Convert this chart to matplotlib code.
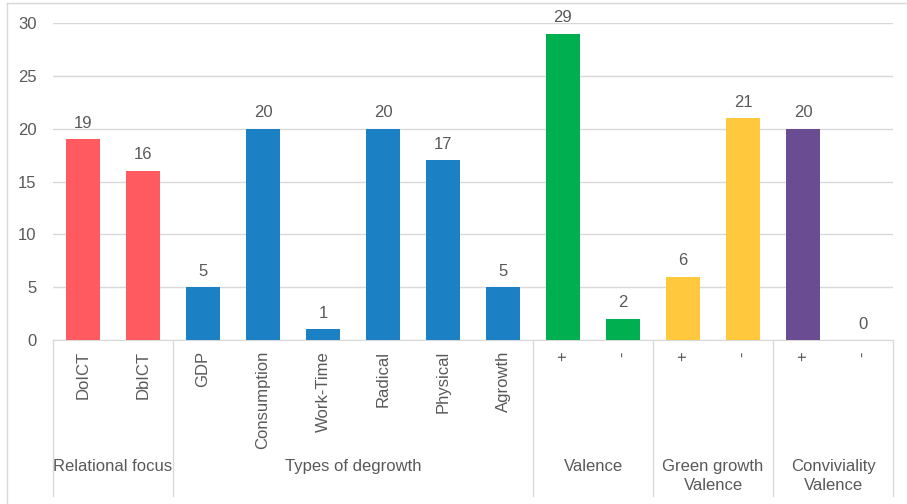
import matplotlib.pyplot as plt
from matplotlib.transforms import blended_transform_factory
from matplotlib.lines import Line2D

plt.rcParams['font.family'] = ['Liberation Sans', 'DejaVu Sans']

# Data
labels = ["DoICT", "DbICT", "GDP", "Consumption", "Work-Time", "Radical",
          "Physical", "Agrowth", "+", "-", "+", "-", "+", "-"]
values = [19, 16, 5, 20, 1, 20, 17, 5, 29, 2, 6, 21, 20, 0]
groups = ["Relational focus", "Types of degrowth", "Valence",
          "Green growth\nValence", "Conviviality\nValence"]
group_sizes = [2, 6, 2, 2, 2]
group_colors = ["#ff5a5f", "#1b80c4", "#00b050", "#ffc83d", "#6a4c93"]

text_col = "#595959"
grid_col = "#d9d9d9"
fs = 12

W, H = 907, 504
fig = plt.figure(figsize=(W / 100, H / 100), dpi=100)
ax = fig.add_axes([53 / W, (H - 340) / H, 840 / W, 317 / H])

colors = []
for c, n in zip(group_colors, group_sizes):
    colors += [c] * n

x = list(range(len(values)))
ax.bar(x, values, width=0.58, color=colors, zorder=3)
for xi, v in zip(x, values):
    ax.text(xi, v + 0.8, str(v), ha="center", va="bottom", fontsize=fs, color=text_col)

ax.set_xlim(-0.5, len(values) - 0.5)
ax.set_ylim(0, 30)
ax.set_yticks(range(0, 31, 5))
ax.yaxis.grid(True, color=grid_col, linewidth=1, zorder=0)
for s in ["top", "right", "left"]:
    ax.spines[s].set_visible(False)
ax.spines["bottom"].set_color(grid_col)
ax.tick_params(axis="y", length=0, labelsize=fs, labelcolor=text_col, pad=12)

ax.set_xticks(x)
ax.set_xticklabels(labels, rotation=90, fontsize=fs, color=text_col)
ax.tick_params(axis="x", length=0, pad=8)

# group separators and group labels
tr = blended_transform_factory(ax.transData, ax.transAxes)
depth = -(496 - 340) / 317
edges = [-0.5]
for n in group_sizes:
    edges.append(edges[-1] + n)
for e in edges:
    ax.add_line(Line2D([e, e], [0, depth], transform=tr, color=grid_col,
                       linewidth=1, clip_on=False))
for g, a, b in zip(groups, edges[:-1], edges[1:]):
    ax.text((a + b) / 2, -(459 - 340) / 317, g, transform=tr, ha="center", va="top",
            fontsize=fs, color=text_col, linespacing=1.3)

# outer chart border
fig.add_artist(Line2D([7 / W, 7 / W], [0, 1 - 3 / H], color=grid_col, linewidth=1))
fig.add_artist(Line2D([7 / W, 1], [1 - 3 / H, 1 - 3 / H], color=grid_col, linewidth=1))

fig.savefig("out.png", dpi=100)
